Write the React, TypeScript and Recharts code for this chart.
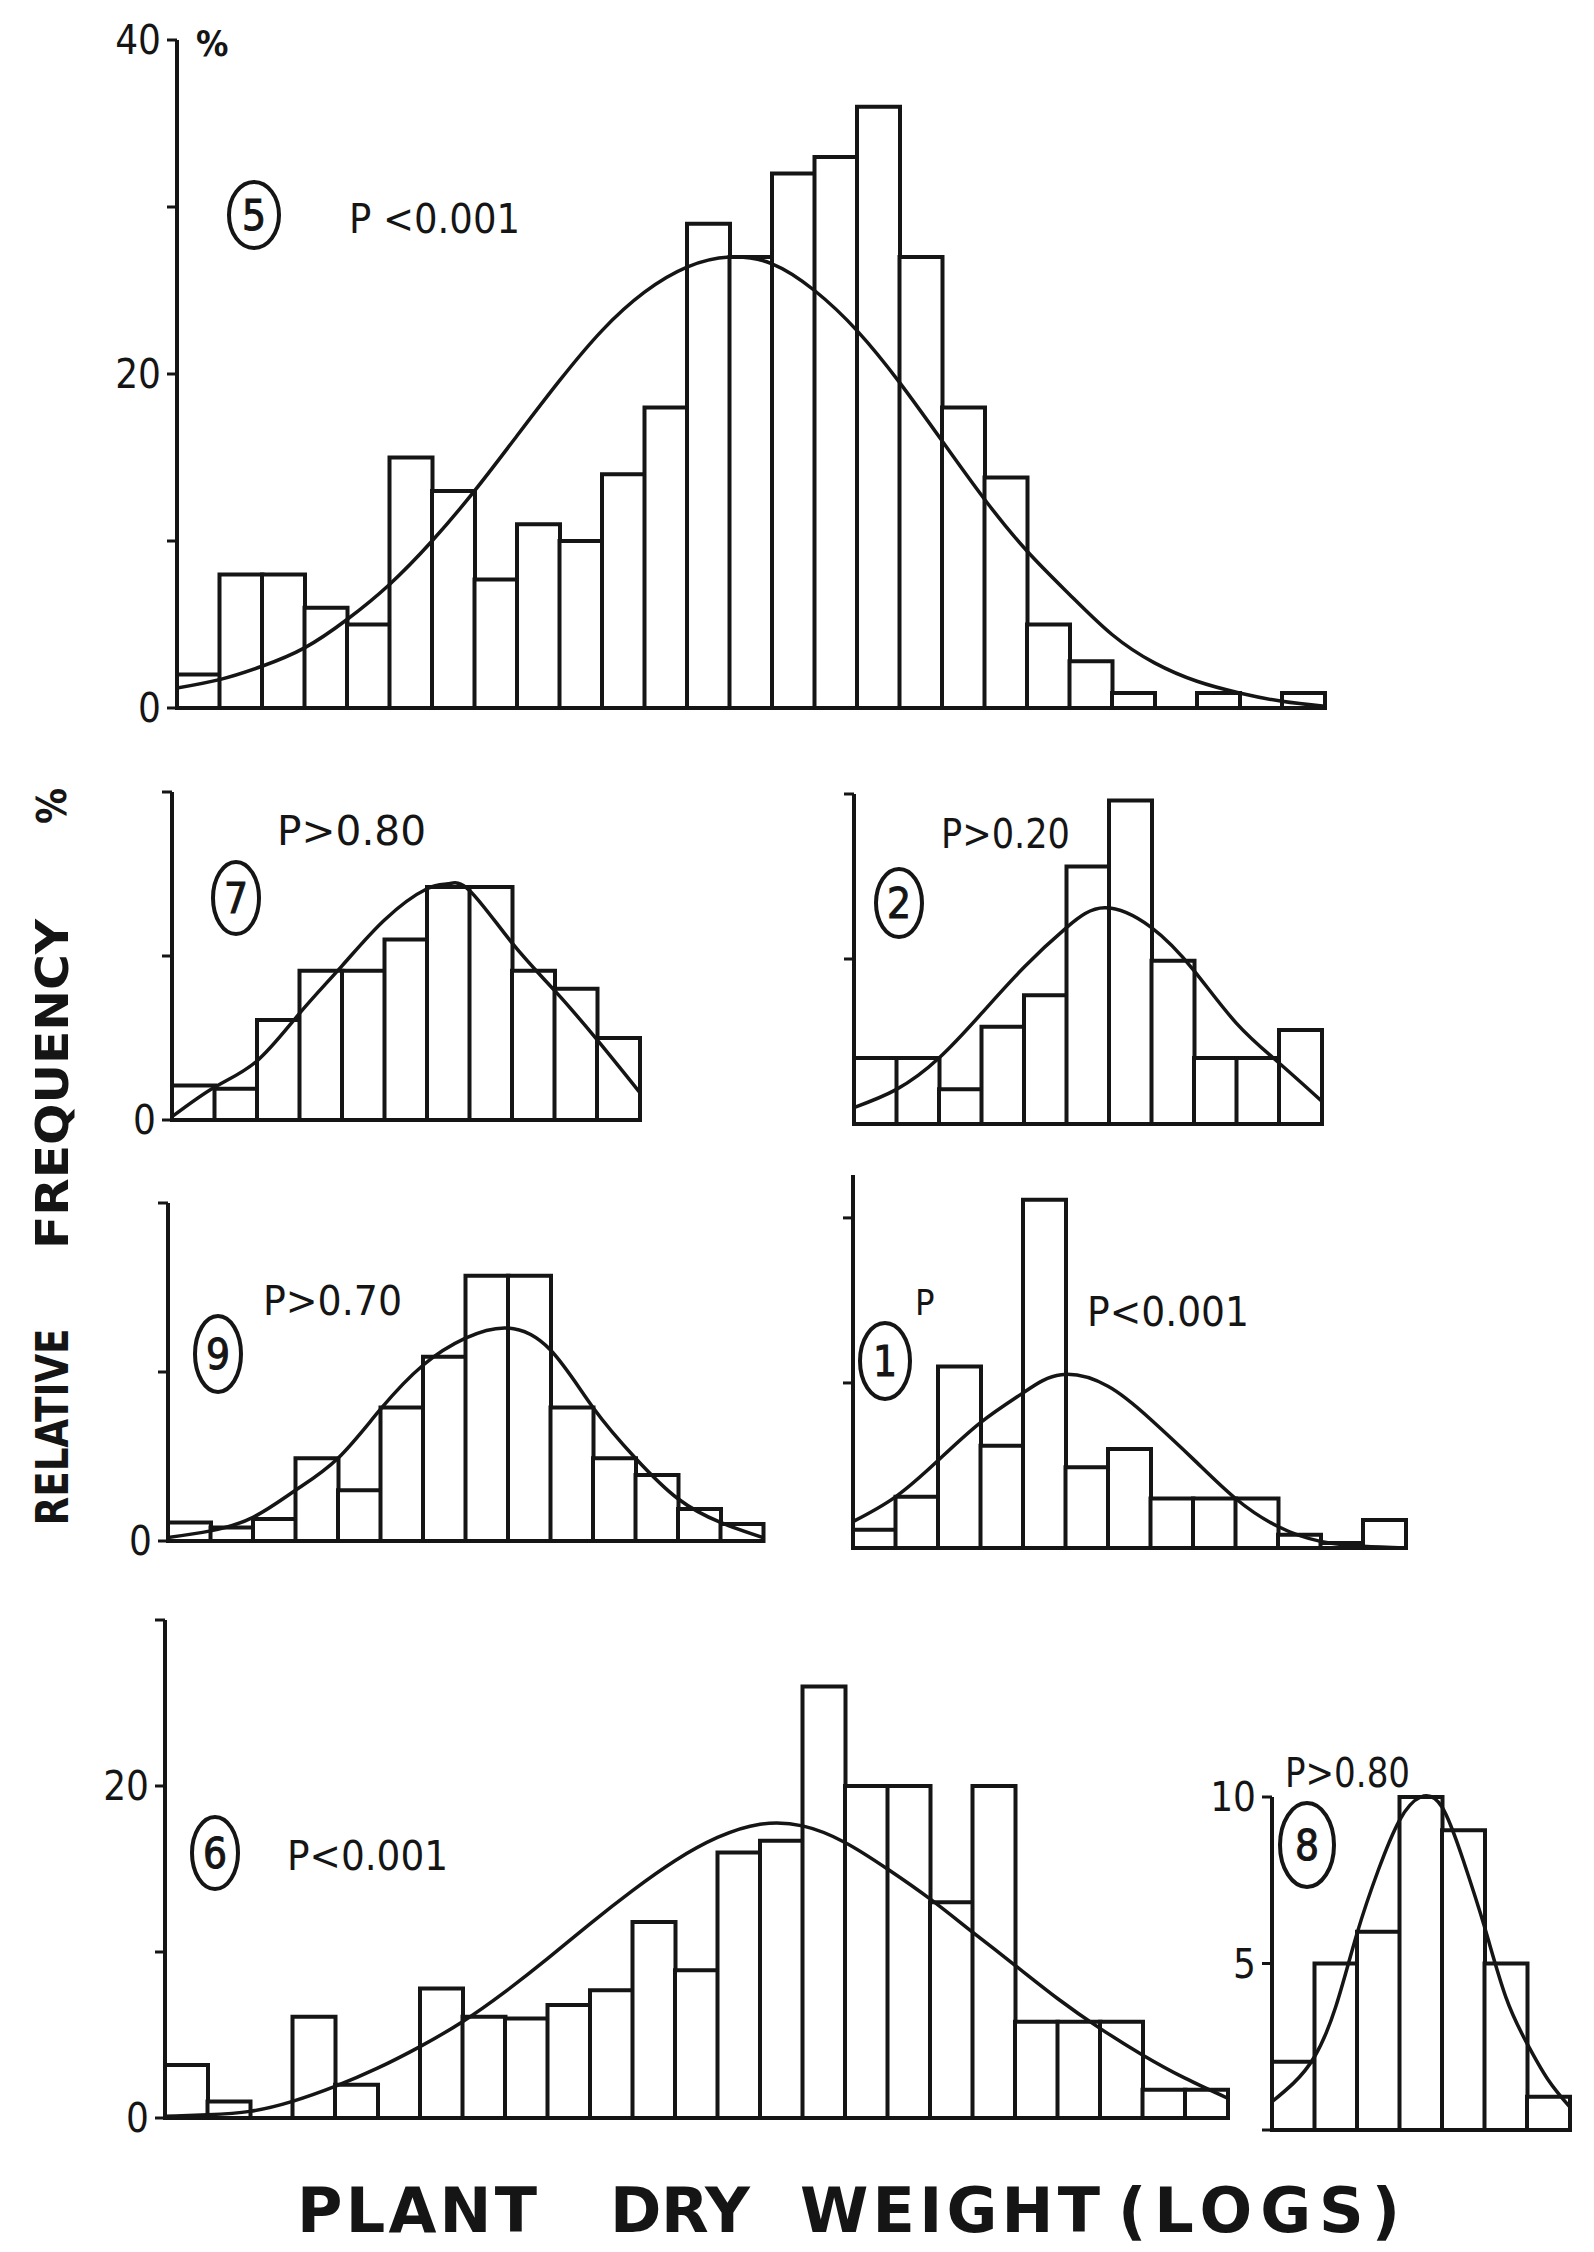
import { ComposedChart, Bar, Line, XAxis, YAxis } from "recharts";

const FONT = '"DejaVu Sans Condensed", "Liberation Sans Narrow", "DejaVu Sans", sans-serif';
const WIDE_FONT = '"DejaVu Sans", "Liberation Sans", sans-serif';
const INK = "#151515";

// histogram heights (% per bin) and fitted curves
const P5_BINS = [2, 8, 8, 6, 5, 15, 13, 7.7, 11, 10, 14, 18, 29, 27, 32, 33, 36, 27, 18, 13.8, 5, 2.8, 0.9, 0, 0.9, 0, 0.9];
const P5_CURVE_X = [0, 1, 2, 3, 4, 5, 6, 7, 8, 9, 10, 11, 12, 13, 14, 15, 16, 17, 18, 19, 20, 21, 22, 23, 24, 25, 26, 27];
const P5_CURVE_Y = [1.2, 1.7, 2.5, 3.6, 5.3, 7.4, 10.0, 13.0, 16.3, 19.6, 22.6, 24.9, 26.4, 27.0, 26.6, 25.0, 22.6, 19.5, 16.0, 12.5, 9.4, 6.8, 4.4, 2.7, 1.6, 0.9, 0.4, 0.1];

const P7_BINS = [2.1, 1.9, 6.1, 9.1, 9.1, 11.0, 14.2, 14.2, 9.1, 8.0, 5.0];
const P7_CURVE_X = [0, 1, 2, 3, 4, 5, 6, 6.5, 7, 8, 9, 10, 11];
const P7_CURVE_Y = [0.2, 2.0, 3.6, 6.5, 9.4, 12.2, 14.1, 14.4, 14.0, 10.8, 7.9, 4.9, 1.7];

const P2_BINS = [4.0, 4.0, 2.1, 5.9, 7.8, 15.6, 19.6, 9.9, 4.0, 4.0, 5.7];
const P2_CURVE_X = [0, 1, 2, 3, 4, 5, 5.9, 7, 8, 9, 10, 11];
const P2_CURVE_Y = [1.0, 2.1, 4.0, 6.7, 9.5, 11.9, 13.1, 11.9, 9.3, 6.1, 3.7, 1.4];

const P9_BINS = [1.1, 0.8, 1.3, 4.9, 3.0, 7.9, 10.9, 15.7, 15.7, 7.9, 4.9, 3.9, 1.9, 1.0];
const P9_CURVE_X = [0, 1, 2, 3, 4, 5, 6, 7, 8, 9, 10, 11, 12, 13, 14];
const P9_CURVE_Y = [0.2, 0.6, 1.4, 3.0, 4.9, 7.8, 10.4, 12.0, 12.6, 11.3, 7.9, 4.9, 2.5, 1.1, 0.2];

const P1_BINS = [1.1, 3.1, 11.0, 6.2, 21.1, 4.9, 6.0, 3.0, 3.0, 3.0, 0.8, 0.3, 1.7];
const P1_CURVE_X = [0, 1, 2, 3, 4, 4.9, 6, 7, 8, 9, 10, 11, 12, 13];
const P1_CURVE_Y = [1.6, 3.1, 5.3, 7.6, 9.4, 10.5, 9.8, 7.8, 5.4, 3.0, 1.3, 0.4, 0.1, 0];

const P6_BINS = [3.2, 1.0, 0, 6.1, 2.0, 0, 7.8, 6.1, 6.0, 6.8, 7.7, 11.8, 8.9, 16.0, 16.7, 26, 20, 20, 13, 20, 5.8, 5.8, 5.8, 1.7, 1.7];
const P6_CURVE_X = [0, 1, 2, 3, 4, 5, 6, 7, 8, 9, 10, 11, 12, 13, 14, 15, 16, 17, 18, 19, 20, 21, 22, 23, 24, 25];
const P6_CURVE_Y = [0.1, 0.2, 0.4, 1.0, 1.9, 3.0, 4.3, 5.8, 7.6, 9.6, 11.7, 13.7, 15.5, 16.9, 17.7, 17.6, 16.6, 15.0, 13.2, 11.2, 9.2, 7.2, 5.4, 3.8, 2.4, 1.2];

const P8_BINS = [2.05, 5.0, 5.95, 10, 9.0, 5.0, 1.0];
const P8_CURVE_X = [0, 0.5, 1, 1.5, 2, 2.5, 3, 3.5, 4, 4.5, 5, 5.5, 6, 6.5, 7];
const P8_CURVE_Y = [0.85, 1.4, 2.2, 3.7, 5.9, 7.8, 9.3, 10.0, 9.7, 8.1, 6.1, 4.0, 2.6, 1.5, 0.7];

// panel numbers and test results
const PANEL_IDS = ["5", "7", "2", "9", "1", "6", "8"];
const P_TEXTS = ["P <0.001", "P>0.80", "P>0.20", "P>0.70", "P<0.001", "P<0.001", "P>0.80"];

const Y_TITLE = ["RELATIVE", "FREQUENCY", "%"];
const X_TITLE = ["PLANT", "DRY", "WEIGHT", "(LOGS)"];

type PanelProps = {
  left: number;
  top: number;
  plotW: number;
  plotH: number;
  bins: number[];
  curveX: number[];
  curveY: number[];
  yMax: number;
  ticks: number[];
  labels: number[];
};

const ML = 130;
const MT = 40;
const MR = 30;
const MB = 34;

function Panel({ left, top, plotW, plotH, bins, curveX, curveY, yMax, ticks, labels }: PanelProps) {
  const barData = bins.map((v, i) => ({ bin: i, v }));
  const lineData = curveX.map((x, i) => ({ x, y: curveY[i] }));
  const n = bins.length;
  return (
    <div style={{ position: "absolute", left: left - ML, top: top - MT }}>
      <ComposedChart
        width={ML + plotW + MR}
        height={MT + plotH + 1 + MB}
        data={barData}
        margin={{ top: MT, right: MR, bottom: MB, left: 0 }}
        barCategoryGap={0}
        barGap={0}
      >
        <XAxis
          xAxisId="cat"
          dataKey="bin"
          type="category"
          height={1}
          tick={false}
          tickLine={false}
          axisLine={{ stroke: INK, strokeWidth: 4 }}
        />
        <XAxis xAxisId="num" dataKey="x" type="number" domain={[0, n]} allowDataOverflow hide />
        <YAxis
          width={ML}
          type="number"
          domain={[0, yMax]}
          ticks={ticks}
          interval={0}
          tickSize={10}
          tickMargin={6}
          tickFormatter={(v: number) => (labels.includes(v) ? String(v) : "")}
          tick={{ fontSize: 40, fill: INK, fontFamily: FONT }}
          tickLine={{ stroke: INK, strokeWidth: 3 }}
          axisLine={{ stroke: INK, strokeWidth: 4 }}
        />
        <Bar xAxisId="cat" dataKey="v" fill="#fff" stroke={INK} strokeWidth={4} isAnimationActive={false} />
        <Line
          xAxisId="num"
          data={lineData}
          dataKey="y"
          type="natural"
          stroke={INK}
          strokeWidth={3.5}
          dot={false}
          isAnimationActive={false}
        />
      </ComposedChart>
    </div>
  );
}

const BIN = 42.5;

// plot boxes in page pixels
const PANELS = [
  { left: 177, top: 40, h: 668, bins: P5_BINS, cx: P5_CURVE_X, cy: P5_CURVE_Y, yMax: 40, ticks: [0, 10, 20, 30, 40], labels: [0, 20, 40] },
  { left: 172, top: 792, h: 328, bins: P7_BINS, cx: P7_CURVE_X, cy: P7_CURVE_Y, yMax: 20, ticks: [0, 10, 20], labels: [0] },
  { left: 854, top: 794, h: 330, bins: P2_BINS, cx: P2_CURVE_X, cy: P2_CURVE_Y, yMax: 20, ticks: [10, 20], labels: [] },
  { left: 168, top: 1203, h: 338, bins: P9_BINS, cx: P9_CURVE_X, cy: P9_CURVE_Y, yMax: 20, ticks: [0, 10, 20], labels: [0] },
  { left: 853, top: 1175, h: 373, bins: P1_BINS, cx: P1_CURVE_X, cy: P1_CURVE_Y, yMax: 22.6, ticks: [10, 20], labels: [] },
  { left: 165, top: 1620, h: 498, bins: P6_BINS, cx: P6_CURVE_X, cy: P6_CURVE_Y, yMax: 30, ticks: [0, 10, 20, 30], labels: [0, 20] },
  { left: 1272, top: 1797, h: 333, bins: P8_BINS, cx: P8_CURVE_X, cy: P8_CURVE_Y, yMax: 10, ticks: [0, 5, 10], labels: [5, 10] },
];

// annotation layout: circled id (cx, cy, rx, ry) and P text (x, baseline y, length)
const ID_POS = [
  [254, 215, 25, 33],
  [236, 898, 23, 36],
  [899, 903, 23, 34],
  [218, 1354, 23, 38],
  [885, 1361, 25, 38],
  [215, 1853, 23, 36],
  [1307, 1845, 27, 42],
];
const P_POS = [
  [349, 233, 171],
  [277, 845, 149],
  [941, 848, 129],
  [263, 1315, 139],
  [1087, 1326, 162],
  [287, 1870, 161],
  [1285, 1787, 125],
];
// x title words: left x and length
const X_TITLE_POS = [
  [297, 240],
  [610, 140],
  [800, 300],
  [1118, 282],
];

export default function App() {
  return (
    <div style={{ position: "absolute", left: 0, top: 0, width: 1594, height: 2252, background: "#fff", overflow: "hidden" }}>
      {PANELS.map((p, i) => (
        <Panel
          key={i}
          left={p.left}
          top={p.top}
          plotW={p.bins.length * BIN}
          plotH={p.h}
          bins={p.bins}
          curveX={p.cx}
          curveY={p.cy}
          yMax={p.yMax}
          ticks={p.ticks}
          labels={p.labels}
        />
      ))}
      <svg
        width={1594}
        height={2252}
        style={{ position: "absolute", left: 0, top: 0, pointerEvents: "none" }}
        fontFamily={FONT}
        fill={INK}
      >
        {PANEL_IDS.map((id, i) => {
          const [cx, cy, rx, ry] = ID_POS[i];
          return (
            <g key={id}>
              <ellipse cx={cx} cy={cy} rx={rx} ry={ry} fill="none" stroke={INK} strokeWidth={4} />
              <text x={cx} y={cy + 15} textAnchor="middle" fontSize={42} stroke={INK} strokeWidth={1}>
                {id}
              </text>
            </g>
          );
        })}
        {P_TEXTS.map((t, i) => {
          const [x, y, len] = P_POS[i];
          return (
            <text key={i} x={x} y={y} fontSize={40} textLength={len} lengthAdjust="spacingAndGlyphs">
              {t}
            </text>
          );
        })}
        <text x={915} y={1315} fontSize={36}>
          P
        </text>
        <text x={196} y={56} fontSize={36} fontWeight="bold">
          %
        </text>
        <text
          x={52}
          y={1427}
          transform="rotate(-90 52 1427)"
          textAnchor="middle"
          dominantBaseline="central"
          fontSize={44}
          fontWeight="bold"
          textLength={197}
          lengthAdjust="spacingAndGlyphs"
        >
          {Y_TITLE[0]}
        </text>
        <text
          x={52}
          y={1084}
          transform="rotate(-90 52 1084)"
          textAnchor="middle"
          dominantBaseline="central"
          fontSize={44}
          fontWeight="bold"
          textLength={330}
          lengthAdjust="spacingAndGlyphs"
        >
          {Y_TITLE[1]}
        </text>
        <text
          x={52}
          y={806}
          transform="rotate(-90 52 806)"
          textAnchor="middle"
          dominantBaseline="central"
          fontSize={40}
          fontWeight="bold"
        >
          {Y_TITLE[2]}
        </text>
        {X_TITLE.map((w, i) => {
          const [x, len] = X_TITLE_POS[i];
          return (
            <text
              key={w}
              x={x}
              y={2232}
              fontFamily={WIDE_FONT}
              fontSize={62}
              fontWeight="bold"
              textLength={len}
              lengthAdjust="spacing"
            >
              {w}
            </text>
          );
        })}
      </svg>
    </div>
  );
}
